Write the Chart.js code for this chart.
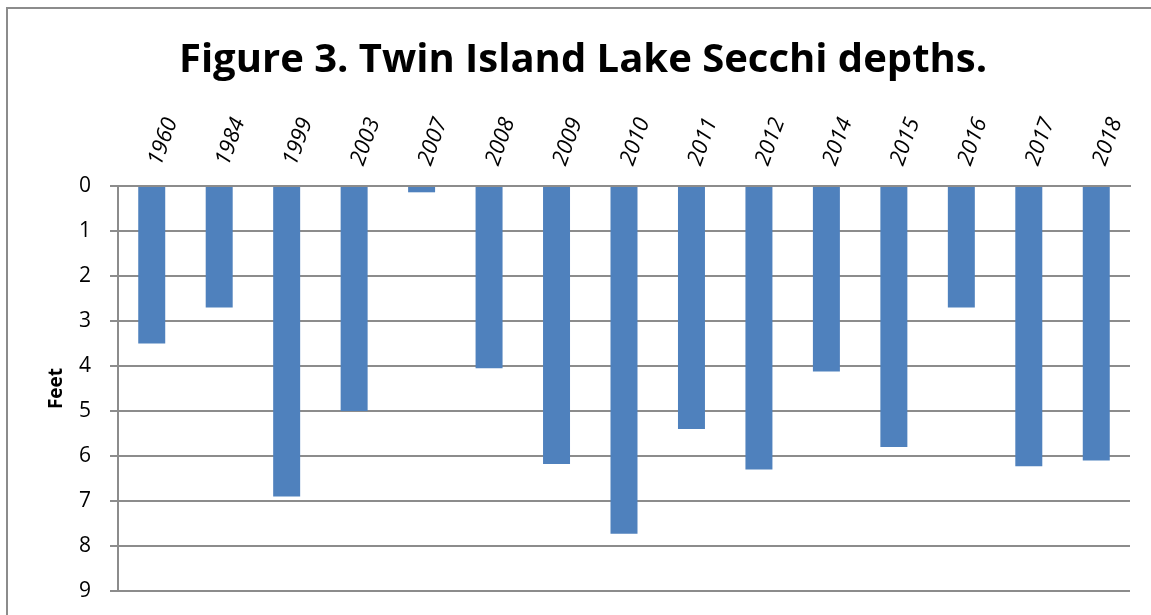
<!DOCTYPE html>
<html>
<head>
<meta charset="utf-8">
<script src="https://cdn.jsdelivr.net/npm/chart.js@4/dist/chart.umd.min.js"></script>
<style>
  html, body { margin: 0; padding: 0; background: #fff; overflow: hidden; }
  #wrap { position: relative; width: 1151px; height: 615px; }
  #frame { position: absolute; left: 6px; top: 7px; width: 1160px; height: 620px;
           border-left: 2px solid #8c8c8c; border-top: 2px solid #8c8c8c; box-sizing: border-box; }
  canvas { position: absolute; left: 0; top: 0; }
</style>
</head>
<body>
<div id="wrap">
  <div id="frame"></div>
  <canvas id="grafico" width="1151" height="615"></canvas>
</div>
<script>
const years = ["1960", "1984", "1999", "2003", "2007", "2008", "2009", "2010", "2011", "2012", "2014", "2015", "2016", "2017", "2018"];
// Secchi depth in feet
const depths = [3.5, 2.7, 6.9, 5.0, 0.14, 4.05, 6.18, 7.73, 5.4, 6.3, 4.12, 5.8, 2.7, 6.23, 6.1];
const yTicks = [0, 1, 2, 3, 4, 5, 6, 7, 8, 9];

const gridColor = "#8c8c8c";
const fontFam = "'Open Sans', 'Noto Sans', sans-serif";

const ctx = document.getElementById("grafico").getContext("2d");

new Chart(ctx, {
  type: "bar",
  data: {
    labels: years,
    datasets: [{
      label: "Feet",
      data: depths,
      backgroundColor: "#4f81bd",
      borderWidth: 0,
      barPercentage: 0.4,
      categoryPercentage: 1
    }]
  },
  options: {
    responsive: false,
    animation: false,
    layout: { padding: { left: 36, right: 21, top: 0, bottom: 24 } },
    plugins: {
      legend: { display: false },
      tooltip: { enabled: false },
      title: {
        display: true,
        text: "Figure 3. Twin Island Lake Secchi depths.",
        color: "#000",
        font: { family: fontFam, size: 40, weight: "bold" },
        padding: { top: 37, bottom: 0 }
      }
    },
    scales: {
      x: {
        position: "top",
        grid: { display: false },
        border: { display: true, color: gridColor, width: 2 },
        ticks: {
          color: "#000",
          font: { family: fontFam, size: 22, style: "italic" },
          minRotation: 70,
          maxRotation: 70,
          padding: 9,
          labelOffset: 28
        },
        afterFit: s => {
          s.height = 186 - 37 - 48;
          s.paddingLeft = 0;
          s.paddingRight = 0;
        }
      },
      y: {
        reverse: true,
        min: 0,
        max: 9,
        afterBuildTicks: s => { s.ticks = yTicks.map(v => ({ value: v })); },
        grid: { color: gridColor, lineWidth: 2, tickLength: 8 },
        border: { display: true, color: gridColor, width: 2 },
        ticks: {
          color: "#000",
          font: { family: fontFam, size: 21 },
          padding: 19
        },
        title: {
          display: true,
          text: "Feet",
          color: "#000",
          font: { family: fontFam, size: 19, weight: "bold" },
          padding: { top: 9, bottom: 0 }
        },
        afterFit: s => {
          s.width = 82;
          s.paddingTop = 0;
          s.paddingBottom = 0;
        }
      }
    }
  }
});
</script>
</body>
</html>
